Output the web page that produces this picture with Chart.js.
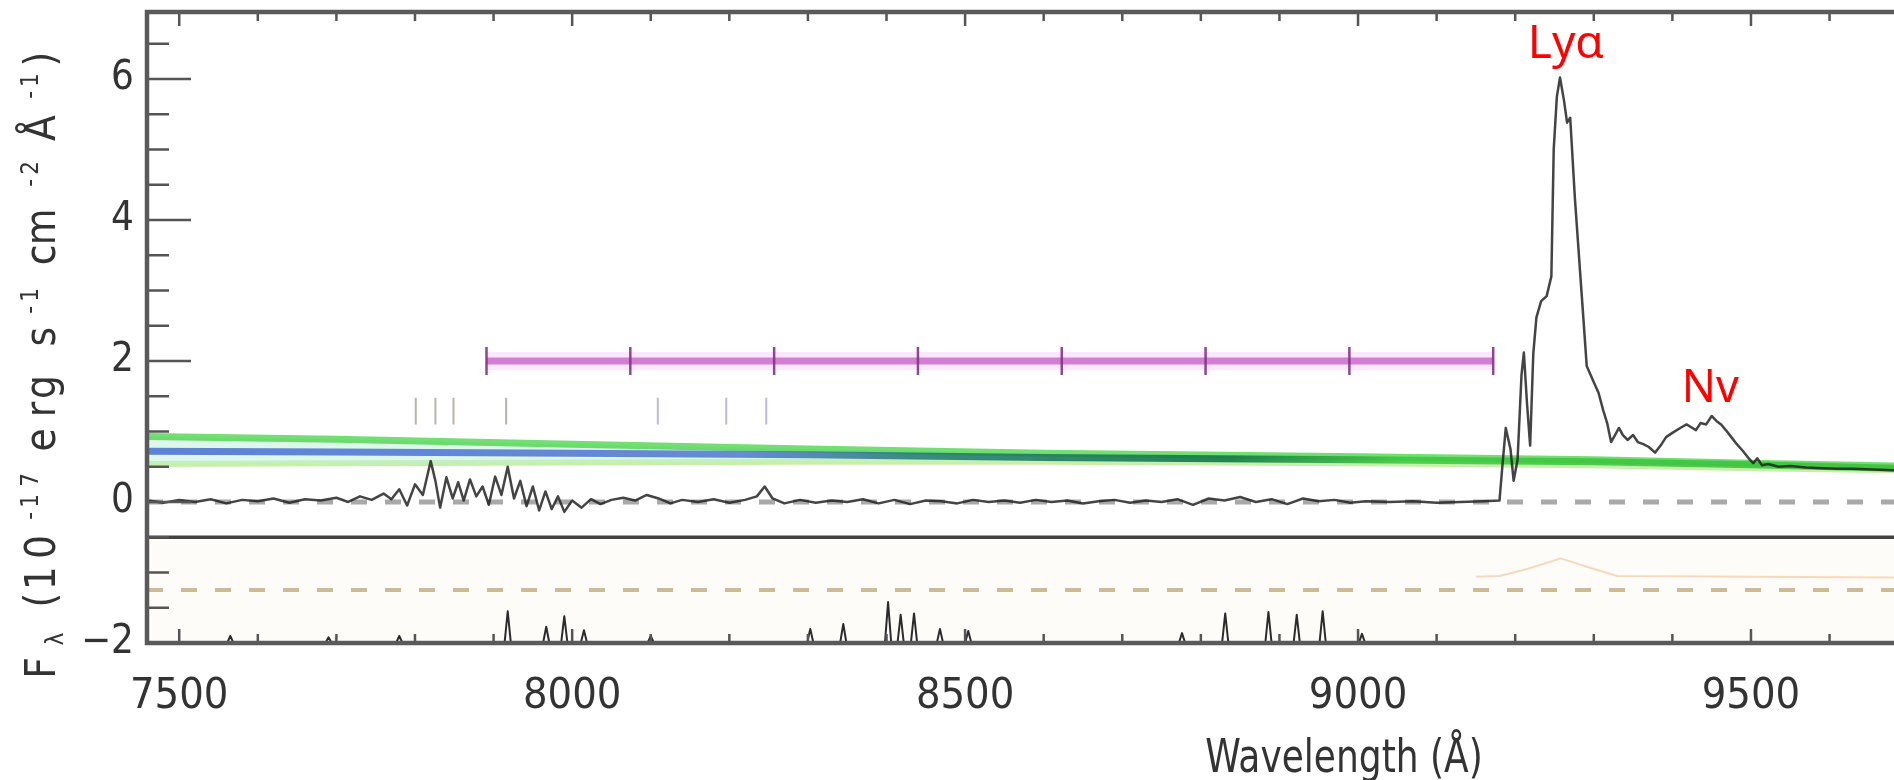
<!DOCTYPE html>
<html>
<head>
<meta charset="utf-8">
<title>Spectre Lya</title>
<script src="https://cdn.jsdelivr.net/npm/chart.js@4.4.1/dist/chart.umd.min.js"></script>
<style>
  html, body { margin: 0; padding: 0; background: #fff; }
  #wrap { width: 1894px; height: 780px; }
</style>
</head>
<body>
<div id="wrap"><canvas id="myChart" width="1894" height="780"></canvas></div>
<script>
// Spectre observe (Angstrom, 1e-17 erg/s/cm2/A)
const specLam = [7460, 7480, 7500, 7520, 7540, 7560, 7580, 7600, 7620, 7640, 7660, 7680, 7700, 7715, 7730, 7745,
  7760, 7770, 7780, 7790, 7800, 7810, 7820, 7826, 7832, 7840, 7848, 7855, 7862, 7870, 7878, 7886, 7894, 7902,
  7910, 7918, 7926, 7934, 7942, 7950, 7958, 7966, 7974, 7982, 7990, 8000, 8012, 8024, 8036, 8050, 8065, 8080,
  8095, 8110, 8125, 8140, 8160, 8180, 8200, 8220, 8235, 8245, 8255, 8270, 8290, 8310, 8330, 8350, 8370, 8390,
  8410, 8430, 8450, 8470, 8490, 8510, 8530, 8550, 8570, 8590, 8610, 8630, 8650, 8670, 8690, 8710, 8730, 8750,
  8770, 8790, 8810, 8830, 8850, 8870, 8890, 8910, 8930, 8950, 8970, 8990, 9010, 9040, 9070, 9100, 9130, 9160,
  9180, 9184, 9188, 9194, 9198, 9203, 9208, 9211, 9215, 9219, 9223, 9227, 9233, 9240, 9246, 9249, 9253, 9257,
  9262, 9266, 9270, 9276, 9285, 9291, 9300, 9306, 9312, 9317, 9322, 9327, 9332, 9337, 9343, 9350, 9356, 9363,
  9370, 9378, 9385, 9392, 9400, 9410, 9418, 9424, 9430, 9436, 9443, 9450, 9456, 9462, 9468, 9475, 9482, 9490,
  9497, 9503, 9508, 9514, 9522, 9535, 9550, 9570, 9590, 9610, 9630, 9655, 9682];
const specFlux = [0.02, -0.01, 0.03, 0.00, 0.04, -0.02, 0.03, 0.01, 0.05, -0.01, 0.04, 0.02, 0.06, 0.00, 0.08, 0.03,
  0.12, 0.04, 0.18, -0.05, 0.25, 0.10, 0.58, 0.30, -0.08, 0.35, 0.05, 0.28, 0.02, 0.32, 0.08, 0.22, -0.04, 0.36,
  0.10, 0.50, 0.05, 0.30, -0.06, 0.22, -0.12, 0.15, -0.10, 0.08, -0.14, 0.02, -0.08, 0.04, -0.03, 0.03, 0.06, 0.02,
  0.10, 0.05, -0.02, 0.03, 0.00, 0.04, -0.01, 0.03, 0.08, 0.22, 0.05, -0.02, 0.03, -0.01, 0.02, 0.00, 0.04, -0.02,
  0.03, -0.03, 0.02, 0.01, -0.02, 0.03, 0.00, 0.02, -0.01, 0.03, 0.00, 0.02, -0.02, 0.01, 0.03, -0.01, 0.02, 0.00,
  0.04, -0.04, 0.05, 0.02, 0.07, 0.00, 0.04, -0.03, 0.05, 0.01, 0.03, -0.01, 0.01, 0.00, 0.01, -0.01, 0.00, 0.01,
  0.02, 0.55, 1.05, 0.75, 0.30, 0.60, 1.80, 2.12, 1.40, 0.80, 2.10, 2.62, 2.85, 2.92, 3.20, 5.00, 5.75, 6.02,
  5.70, 5.38, 5.45, 4.30, 2.88, 1.93, 1.70, 1.55, 1.30, 1.12, 0.85, 0.95, 1.05, 0.95, 0.88, 0.95, 0.85, 0.82,
  0.78, 0.70, 0.80, 0.92, 0.98, 1.05, 1.10, 1.06, 1.02, 1.12, 1.10, 1.22, 1.15, 1.10, 1.02, 0.92, 0.82, 0.72,
  0.62, 0.55, 0.62, 0.52, 0.54, 0.50, 0.51, 0.49, 0.48, 0.47, 0.47, 0.46, 0.45];

// Modele continu (bande verte)
const modLam = [7460, 7700, 8000, 8300, 8600, 9000, 9300, 9500, 9682];
const modHigh = [0.93, 0.89, 0.82, 0.75, 0.69, 0.64, 0.60, 0.55, 0.51];
const modMid = [0.72, 0.71, 0.69, 0.67, 0.63, 0.60, 0.57, 0.53, 0.48];
const modLow = [0.54, 0.55, 0.56, 0.57, 0.57, 0.55, 0.52, 0.48, 0.45];

// Raies du ciel (en bas)
const skyLam = [7565, 7690, 7780, 7918, 7967, 7990, 8015, 8100, 8303, 8345, 8402, 8418, 8435, 8468, 8504,
  8776, 8831, 8886, 8922, 8955, 9005];
const skyTop = [-1.9, -1.92, -1.9, -1.55, -1.77, -1.62, -1.82, -1.9, -1.8, -1.73, -1.42, -1.6, -1.58, -1.8, -1.83,
  -1.86, -1.58, -1.56, -1.6, -1.55, -1.87];

// Barre magenta et ses graduations
const barLam = [7891, 9172];
const barLevel = 2.0;
const barTicks = [7891, 8074, 8257, 8440, 8623, 8806, 8989, 9172];

// Petits traits verticaux
const markGray = [7801, 7826, 7849, 7916];
const markBlue = [8109, 8196, 8247];
const markLow = 1.10;
const markHigh = 1.48;

// Lignes horizontales
const zeroLevel = 0;
const blackLevel = -0.5;
const tanLevel = -1.25;
const bumpLam = [9150, 9180, 9215, 9258, 9300, 9330, 9682];
const bumpFlux = [-1.06, -1.05, -0.95, -0.80, -0.95, -1.05, -1.07];

// Axes
const xMin = 7459;
const xMax = 9682;
const yMin = -2;
const yMax = 6.95;
const xTicks = [7500, 8000, 8500, 9000, 9500];
const xMinor = [7500, 7600, 7700, 7800, 7900, 8000, 8100, 8200, 8300, 8400, 8500, 8600, 8700, 8800, 8900, 9000,
  9100, 9200, 9300, 9400, 9500, 9600];
const yTicks = [-2, 0, 2, 4, 6];
const yTickLabels = ['\u22122', '0', '2', '4', '6'];
const yMinor = [-1.5, -1, -0.5, 0.5, 1, 1.5, 2.5, 3, 3.5, 4.5, 5, 5.5, 6.5];

const narrow = '"Liberation Sans Narrow", "DejaVu Sans Condensed", sans-serif';

function pts(xs, ys) {
  return xs.map((x, i) => ({ x: x, y: ys[i] }));
}

function flat(xs, v) {
  return xs.map(x => ({ x: x, y: v }));
}

function vbars(xs, lo, hi) {
  let out = [];
  xs.forEach(x => {
    out.push({ x: x, y: lo }, { x: x, y: hi }, { x: x, y: null });
  });
  return out;
}

function spikes(xs, tops) {
  let out = [];
  xs.forEach((x, i) => {
    out.push({ x: x - 4, y: yMin }, { x: x, y: tops[i] }, { x: x + 4, y: yMin }, { x: x, y: null });
  });
  return out;
}

function midGradient(context) {
  const chart = context.chart;
  const a = chart.chartArea;
  if (!a) return 'rgba(60,120,160,0.8)';
  const g = chart.ctx.createLinearGradient(a.left, 0, a.right, 0);
  g.addColorStop(0, 'rgba(70,110,210,0.85)');
  g.addColorStop(0.34, 'rgba(80,120,210,0.85)');
  g.addColorStop(0.44, 'rgba(30,120,110,0.85)');
  g.addColorStop(0.62, 'rgba(20,120,70,0.9)');
  g.addColorStop(0.72, 'rgba(60,200,60,0.85)');
  g.addColorStop(1, 'rgba(60,190,60,0.85)');
  return g;
}

function drawYTitle(ctx) {
  const parts = [
    { t: 'F', s: 42, dy: 0 },
    { t: '\u03bb', s: 24, dy: 8 },
    { t: ' (10', s: 42, dy: 0 },
    { t: '-17', s: 24, dy: -17 },
    { t: ' erg s', s: 42, dy: 0 },
    { t: '-1', s: 24, dy: -17 },
    { t: ' cm', s: 42, dy: 0 },
    { t: '-2', s: 24, dy: -17 },
    { t: ' \u00c5', s: 42, dy: 0 },
    { t: '-1', s: 24, dy: -17 },
    { t: ')', s: 42, dy: 0 }
  ];
  ctx.save();
  let w = 0;
  let n = 0;
  parts.forEach(p => {
    ctx.font = p.s + 'px ' + narrow;
    p.w = ctx.measureText(p.t).width;
    w += p.w;
    n += p.t.length;
  });
  const ls = Math.max(0, (630 - w) / n);
  ctx.translate(40, 353);
  ctx.rotate(-Math.PI / 2);
  ctx.fillStyle = '#333';
  ctx.textBaseline = 'alphabetic';
  let x = -(w + ls * n) / 2;
  parts.forEach(p => {
    ctx.font = p.s + 'px ' + narrow;
    for (const ch of p.t) {
      ctx.fillText(ch, x, 15 + p.dy);
      x += ctx.measureText(ch).width + ls;
    }
  });
  ctx.restore();
}

// Cadre, graduations internes, titres et etiquettes rouges
const cadre = {
  id: 'cadre',
  afterDraw(chart) {
    const ctx = chart.ctx;
    const a = chart.chartArea;
    const sx = chart.scales.x;
    const sy = chart.scales.y;
    ctx.save();
    ctx.strokeStyle = '#555';
    ctx.lineWidth = 2.5;
    ctx.beginPath();
    xMinor.forEach(v => {
      const px = sx.getPixelForValue(v);
      const len = xTicks.includes(v) ? 14 : 9;
      ctx.moveTo(px, a.bottom);
      ctx.lineTo(px, a.bottom - len);
      ctx.moveTo(px, a.top);
      ctx.lineTo(px, a.top + len);
    });
    yTicks.concat(yMinor).forEach(v => {
      const py = sy.getPixelForValue(v);
      const len = yTicks.includes(v) ? 44 : 22;
      ctx.moveTo(a.left, py);
      ctx.lineTo(a.left + len, py);
    });
    ctx.stroke();

    ctx.strokeStyle = '#5a5a5a';
    ctx.lineWidth = 4.5;
    ctx.beginPath();
    ctx.moveTo(a.right + 5, a.top);
    ctx.lineTo(a.left, a.top);
    ctx.lineTo(a.left, a.bottom);
    ctx.lineTo(a.right + 5, a.bottom);
    ctx.stroke();

    ctx.fillStyle = '#333';
    ctx.textAlign = 'center';
    ctx.textBaseline = 'alphabetic';
    ctx.save();
    ctx.translate(1344, 772);
    ctx.scale(1, 1.15);
    ctx.font = '40px ' + narrow;
    ctx.fillText('Wavelength (\u00c5)', 0, 0);
    ctx.restore();
    drawYTitle(ctx);

    ctx.fillStyle = '#ff0000';
    ctx.textAlign = 'left';
    ctx.font = '46px "Noto Sans", sans-serif';
    ctx.fillText('Ly\u03b1', sx.getPixelForValue(9216), sy.getPixelForValue(6.30));
    ctx.font = '45px "Noto Sans", sans-serif';
    ctx.fillText('Nv', sx.getPixelForValue(9412), sy.getPixelForValue(1.42));
    ctx.restore();
  }
};

const base = { pointRadius: 0, tension: 0, fill: false, borderJoinStyle: 'round', spanGaps: false };

const ctx = document.getElementById('myChart');

const myChart = new Chart(ctx, {
  type: 'line',
  data: {
    datasets: [
      Object.assign({}, base, { label: 'spectre', data: pts(specLam, specFlux), borderColor: 'rgba(35,35,35,0.85)', borderWidth: 2.5, order: 1 }),
      Object.assign({}, base, { label: 'ciel', data: spikes(skyLam, skyTop), borderColor: 'rgba(20,20,20,0.9)', borderWidth: 2, order: 2 }),
      Object.assign({}, base, { label: 'modele', data: pts(modLam, modMid), borderColor: midGradient, borderWidth: 7, order: 3 }),
      Object.assign({}, base, { label: 'haut', data: pts(modLam, modHigh), borderColor: 'rgba(70,210,70,0.75)', borderWidth: 7, fill: '+1', backgroundColor: 'rgba(190,240,215,0.5)', order: 4 }),
      Object.assign({}, base, { label: 'bas', data: pts(modLam, modLow), borderColor: 'rgba(160,230,110,0.6)', borderWidth: 6, order: 5 }),
      Object.assign({}, base, { label: 'graduations', data: vbars(barTicks, barLevel - 0.2, barLevel + 0.2), borderColor: 'rgba(130,50,140,0.9)', borderWidth: 2.5, order: 6 }),
      Object.assign({}, base, { label: 'barre', data: flat(barLam, barLevel), borderColor: 'rgba(200,100,200,0.8)', borderWidth: 7, order: 7 }),
      Object.assign({}, base, { label: 'halo', data: flat(barLam, barLevel), borderColor: 'rgba(245,190,245,0.35)', borderWidth: 18, order: 8 }),
      Object.assign({}, base, { label: 'traits gris', data: vbars(markGray, markLow, markHigh), borderColor: 'rgba(170,160,155,0.8)', borderWidth: 2, order: 9 }),
      Object.assign({}, base, { label: 'traits bleus', data: vbars(markBlue, markLow, markHigh), borderColor: 'rgba(175,165,215,0.8)', borderWidth: 2, order: 10 }),
      Object.assign({}, base, { label: 'zero', data: flat([xMin, xMax], zeroLevel), borderColor: 'rgba(140,140,140,0.75)', borderWidth: 5, borderDash: [16, 18], order: 11 }),
      Object.assign({}, base, { label: 'noir', data: flat([xMin, xMax], blackLevel), borderColor: 'rgba(45,45,45,0.9)', borderWidth: 3.5, order: 12 }),
      Object.assign({}, base, { label: 'bosse', data: pts(bumpLam, bumpFlux), borderColor: 'rgba(240,190,140,0.55)', borderWidth: 2, order: 13 }),
      Object.assign({}, base, { label: 'tirets', data: flat([xMin, xMax], tanLevel), borderColor: 'rgba(195,175,130,0.85)', borderWidth: 4, borderDash: [16, 18], order: 14 }),
      Object.assign({}, base, { label: 'fond', data: flat([xMin, xMax], blackLevel - 0.05), borderWidth: 0, borderColor: 'rgba(0,0,0,0)', fill: { value: yMin + 0.05 }, backgroundColor: 'rgba(250,238,210,0.15)', order: 15 })
    ]
  },
  options: {
    responsive: false,
    animation: false,
    devicePixelRatio: 1,
    layout: { padding: { top: 12, left: 0, right: 0, bottom: 0 } },
    plugins: { legend: { display: false }, tooltip: { enabled: false } },
    scales: {
      x: {
        type: 'linear',
        min: xMin,
        max: xMax,
        afterBuildTicks: (scale) => { scale.ticks = xTicks.map(v => ({ value: v })); },
        afterFit: (scale) => { scale.height = 137; scale.paddingLeft = 0; scale.paddingRight = 0; },
        grid: { display: false, drawTicks: false },
        border: { display: false },
        ticks: { padding: 28, maxRotation: 0, color: '#333', font: { family: narrow, size: 43 }, callback: (v) => String(v) }
      },
      y: {
        type: 'linear',
        min: yMin,
        max: yMax,
        afterBuildTicks: (scale) => { scale.ticks = yTicks.map(v => ({ value: v })); },
        afterFit: (scale) => { scale.width = 147; scale.paddingTop = 0; scale.paddingBottom = 0; },
        grid: { display: false, drawTicks: false },
        border: { display: false },
        ticks: { padding: 13, color: '#333', font: { family: narrow, size: 40 }, callback: (v) => yTickLabels[yTicks.indexOf(v)] }
      }
    }
  },
  plugins: [cadre]
});
</script>
</body>
</html>
